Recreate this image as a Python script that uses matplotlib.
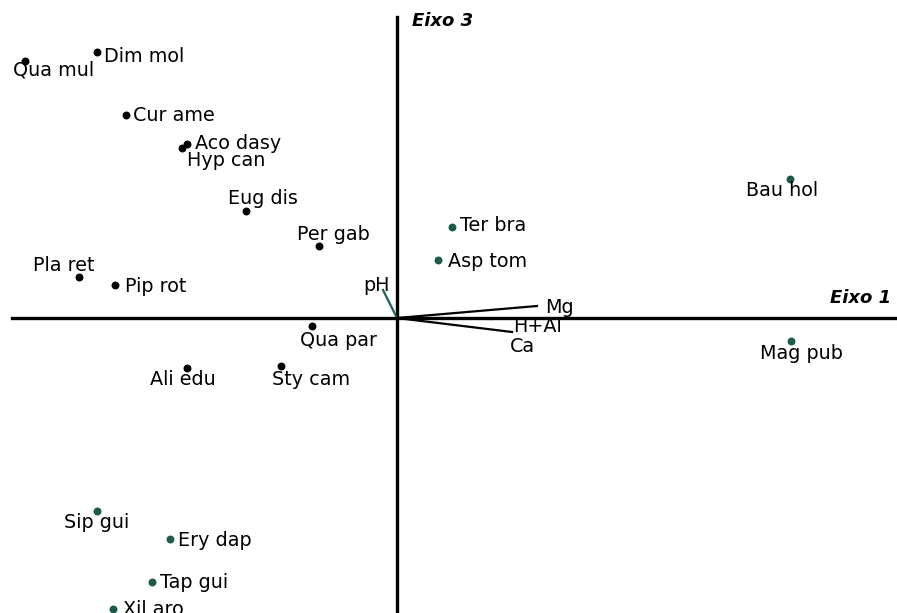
import matplotlib
matplotlib.use('Agg')
import matplotlib.pyplot as plt

# species scores (Eixo 1, Eixo 3)
black_names = ['Qua mul', 'Dim mol', 'Cur ame', 'Aco dasy', 'Hyp can', 'Eug dis',
               'Per gab', 'Pla ret', 'Pip rot', 'Qua par', 'Ali edu', 'Sty cam']
black_x = [-3.72, -3.00, -2.71, -2.10, -2.15, -1.51, -0.78, -3.18, -2.82, -0.85, -2.10, -1.16]
black_y = [2.57, 2.66, 2.03, 1.74, 1.70, 1.07, 0.72, 0.41, 0.33, -0.08, -0.50, -0.48]

green_names = ['Ter bra', 'Asp tom', 'Bau hol', 'Mag pub', 'Sip gui', 'Ery dap', 'Tap gui', 'Xil aro']
green_x = [0.55, 0.41, 3.93, 3.94, -3.00, -2.27, -2.45, -2.84]
green_y = [0.91, 0.58, 1.39, -0.23, -1.93, -2.21, -2.64, -2.91]

# environmental vectors
env_names = ['pH', 'Mg', 'H+Al', 'Ca']
env_x = [-0.14, 1.40, 0.95, 1.15]
env_y = [0.28, 0.12, -0.01, -0.14]

# label offsets in pixels (dx, dy)
black_off = [(-12, -15), (7, -10), (7, -6), (8, -5), (5, -18), (-18, 7),
             (-22, 6), (-46, 6), (10, -7), (-12, -20), (-37, -17), (-9, -19)]
green_off = [(8, -4), (10, -7), (-44, -17), (-31, -18), (-33, -17), (8, -7), (8, -6), (10, -6)]
env_off = [(-20, -1), (8, -7), (21, -13), (-2, -20)]
env_col = ['#1f5f57', 'black', 'black', 'black']

green = '#1d5a4b'
fs = 13.8

fig = plt.figure(figsize=(8.97, 6.13), dpi=100)
ax = fig.add_axes([0, 0, 1, 1])
ax.set_xlim(-3.97, 5.00)
ax.set_ylim(-2.95, 3.18)
ax.axis('off')

# axes lines
ax.axvline(0, ymax=(613 - 17) / 613, color='black', lw=2.4, zorder=1)
ax.axhline(0, xmin=12 / 897, color='black', lw=2.4, zorder=1)

for name, x, y, col in zip(env_names, env_x, env_y, env_col):
    ax.plot([0, x], [0, y], color=col, lw=1.6, zorder=2)
for name, x, y, off in zip(env_names, env_x, env_y, env_off):
    ax.annotate(name, (x, y), xytext=off, textcoords='offset pixels',
                fontsize=fs, ha='left', va='baseline')

ax.scatter(black_x, black_y, s=22, color='black', zorder=3)
ax.scatter(green_x, green_y, s=22, color=green, zorder=3)

for name, x, y, off in zip(black_names, black_x, black_y, black_off):
    ax.annotate(name, (x, y), xytext=off, textcoords='offset pixels',
                fontsize=fs, ha='left', va='baseline')
for name, x, y, off in zip(green_names, green_x, green_y, green_off):
    ax.annotate(name, (x, y), xytext=off, textcoords='offset pixels',
                fontsize=fs, ha='left', va='baseline')

ax.text(412 / 897, 1 - 26 / 613, 'Eixo 3', transform=ax.transAxes, fontsize=13,
        fontweight='bold', fontstyle='italic', ha='left', va='baseline')
ax.text(830 / 897, 1 - 303 / 613, 'Eixo 1', transform=ax.transAxes, fontsize=13,
        fontweight='bold', fontstyle='italic', ha='left', va='baseline')

fig.savefig('out.png', dpi=100)
